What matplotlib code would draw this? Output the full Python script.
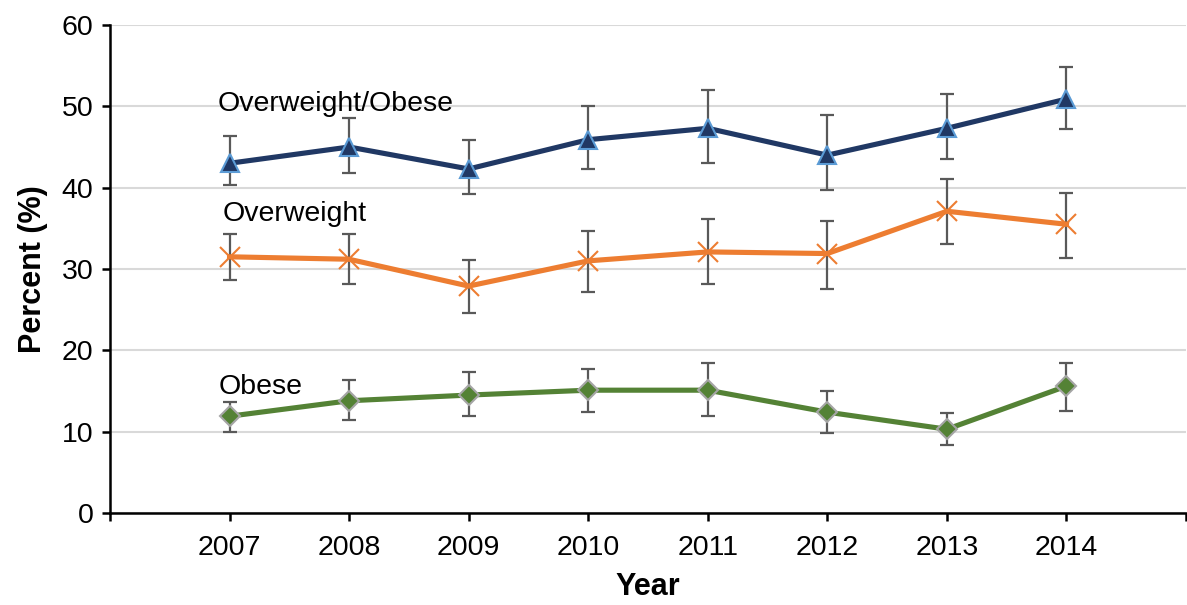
import matplotlib
matplotlib.use("Agg")
import matplotlib.pyplot as plt
import numpy as np

years = [2007, 2008, 2009, 2010, 2011, 2012, 2013, 2014]

ow_ob = [43.0, 45.0, 42.3, 45.9, 47.3, 44.0, 47.3, 50.9]
ow_ob_hi = [46.3, 48.6, 45.8, 50.0, 52.0, 48.9, 51.5, 54.8]
ow_ob_lo = [40.3, 41.8, 39.2, 42.3, 43.0, 39.7, 43.5, 47.2]

ow = [31.5, 31.2, 27.9, 31.0, 32.1, 31.9, 37.1, 35.5]
ow_hi = [34.3, 34.3, 31.1, 34.7, 36.1, 35.9, 41.1, 39.4]
ow_lo = [28.6, 28.1, 24.6, 27.2, 28.2, 27.6, 33.1, 31.4]

ob = [11.9, 13.8, 14.5, 15.1, 15.1, 12.4, 10.3, 15.6]
ob_hi = [13.7, 16.4, 17.3, 17.7, 18.5, 15.0, 12.3, 18.5]
ob_lo = [10.0, 11.4, 11.9, 12.4, 11.9, 9.8, 8.4, 12.6]

yticks = [0, 10, 20, 30, 40, 50, 60]

plt.rcParams['font.family'] = ['Liberation Sans', 'DejaVu Sans']

fig = plt.figure(figsize=(11.87, 6.05), dpi=100)
ax = fig.add_axes([110/1187, 1-513/605, (1186-110)/1187, (513-25)/605])

x = np.arange(len(years))

def series(vals, hi, lo, color, marker, ms, mfc, mec, mew):
    vals = np.array(vals); hi = np.array(hi); lo = np.array(lo)
    ax.errorbar(x, vals, yerr=[vals - lo, hi - vals], fmt='none',
                ecolor='#595959', elinewidth=1.6, capsize=5, capthick=1.6, zorder=2)
    ax.plot(x, vals, color=color, lw=3.7, marker=marker, ms=ms,
            mfc=mfc, mec=mec, mew=mew, zorder=3)

series(ow_ob, ow_ob_hi, ow_ob_lo, '#203864', '^', 13, '#203864', '#5B9BD5', 1.5)
series(ow, ow_hi, ow_lo, '#ED7D31', 'x', 15, '#ED7D31', '#ED7D31', 1.5)
series(ob, ob_hi, ob_lo, '#548235', 'D', 10, '#548235', '#A5A5A5', 1.5)

ax.text(-0.1, 50.3, 'Overweight/Obese', fontsize=20.5, va='center', ha='left')
ax.text(-0.06, 36.8, 'Overweight', fontsize=20.5, va='center', ha='left')
ax.text(-0.09, 15.5, 'Obese', fontsize=20.5, va='center', ha='left')

ax.set_xlim(-1, len(years))
ax.set_ylim(0, 60)
ax.set_yticks(yticks)
ax.set_yticklabels([str(v) for v in yticks], fontsize=20.5)
ax.set_xticks(np.arange(-1, len(years) + 1))
ax.set_xticklabels([''] + [str(y) for y in years] + [''], fontsize=20.5)
ax.grid(axis='y', color='#D9D9D9', lw=1.5, zorder=0)
ax.set_axisbelow(True)
for s in ['top', 'right']:
    ax.spines[s].set_visible(False)
for s in ['left', 'bottom']:
    ax.spines[s].set_linewidth(1.8)
ax.tick_params(axis='both', length=6, width=1.8, direction='out')
ax.tick_params(axis='x', pad=10)
ax.tick_params(axis='y', pad=6)

ax.set_ylabel('Percent (%)', fontsize=22, fontweight='bold', labelpad=10)
ax.set_xlabel('Year', fontsize=22, fontweight='bold', labelpad=8)

fig.savefig('out.png', dpi=100)
